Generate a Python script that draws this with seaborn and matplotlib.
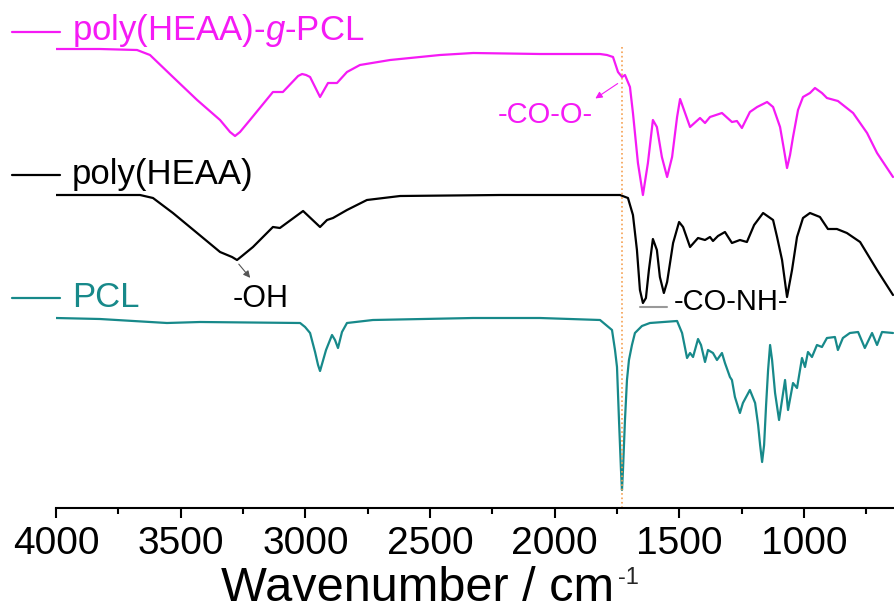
import matplotlib
matplotlib.use("Agg")
import matplotlib.pyplot as plt
import numpy as np
import pandas as pd
import seaborn as sns

# FTIR spectra (wavenumber in cm-1, transmittance in arbitrary offset units)
graft_wn = [4000, 3824, 3675, 3623, 3531, 3434, 3342, 3302, 3282, 3262, 3222, 3130, 3090, 3029,
            3013, 2997, 2981, 2961, 2941, 2925, 2909, 2873, 2833, 2781, 2660, 2460, 2327, 2059,
            1818, 1790, 1766, 1746, 1730, 1718, 1698, 1686, 1666, 1646, 1626, 1606, 1590, 1570,
            1549, 1529, 1509, 1497, 1477, 1457, 1417, 1397, 1377, 1329, 1289, 1269, 1249, 1217,
            1188, 1148, 1124, 1096, 1080, 1068, 1056, 1044, 1024, 1004, 976, 956, 928, 908, 864,
            803, 747, 707, 643]
graft_t = [459, 459, 458, 453, 431, 408, 388, 376, 372, 376, 388, 416, 416, 432,
           434, 433, 431, 421, 411, 418, 425, 425, 436, 443, 448, 453, 455, 454,
           454, 453, 451, 436, 431, 433, 421, 395, 345, 313, 345, 388, 381, 351,
           331, 351, 391, 409, 395, 381, 390, 385, 391, 395, 386, 387, 380, 396,
           401, 406, 401, 381, 358, 340, 353, 371, 398, 411, 415, 420, 415, 410, 407,
           395, 375, 355, 331]

heaa_wn = [4000, 3663, 3611, 3531, 3434, 3342, 3294, 3274, 3254, 3210, 3130, 3102, 3009, 2941,
           2913, 2889, 2833, 2753, 2620, 2219, 1738, 1706, 1686, 1670, 1658, 1646, 1634, 1622,
           1606, 1590, 1578, 1562, 1549, 1525, 1501, 1485, 1457, 1425, 1397, 1377, 1365, 1345,
           1317, 1289, 1257, 1229, 1200, 1164, 1124, 1108, 1088, 1068, 1048, 1028, 1004, 976,
           936, 904, 868, 828, 775, 707, 643]
heaa_t = [313, 313, 310, 295, 275, 256, 251, 248, 252, 261, 281, 280, 297, 281,
          288, 290, 298, 308, 312, 313, 313, 310, 293, 258, 218, 205, 210, 238,
          269, 258, 231, 215, 226, 265, 286, 281, 261, 270, 268, 271, 267, 272,
          276, 265, 268, 266, 283, 295, 288, 271, 248, 211, 238, 271, 290, 295,
          291, 279, 279, 275, 266, 238, 213]

pcl_wn = [4000, 3824, 3555, 3422, 3021, 3001, 2981, 2961, 2949, 2941, 2933, 2917, 2893, 2881,
          2869, 2853, 2833, 2729, 2327, 2059, 1818, 1770, 1758, 1750, 1742, 1734, 1730, 1726,
          1718, 1710, 1702, 1690, 1678, 1650, 1618, 1509, 1489, 1469, 1457, 1445, 1425, 1413,
          1397, 1385, 1365, 1349, 1329, 1317, 1297, 1289, 1277, 1257, 1245, 1217, 1196, 1184,
          1176, 1168, 1160, 1152, 1144, 1136, 1128, 1116, 1100, 1076, 1064, 1044, 1028, 1008,
          996, 984, 968, 948, 928, 908, 876, 864, 844, 816, 783, 756, 727, 707, 687, 643]
pcl_t = [190, 189, 185, 186, 185, 181, 175, 156, 143, 137, 144, 158, 173, 168,
         160, 176, 185, 188, 190, 190, 188, 178, 158, 141, 88, 38, 18, 38,
         88, 128, 148, 163, 175, 182, 185, 187, 175, 150, 155, 151, 169, 163,
         146, 158, 155, 148, 155, 145, 131, 128, 111, 95, 105, 118, 105, 83,
         63, 46, 63, 103, 138, 163, 148, 115, 88, 128, 98, 125, 120, 150,
         141, 156, 151, 163, 161, 170, 171, 158, 170, 175, 176, 160, 175, 163, 176, 175]

samples = ["poly(HEAA)-g-PCL", "poly(HEAA)", "PCL"]
colors = {"poly(HEAA)-g-PCL": "#f51af5", "poly(HEAA)": "#000000", "PCL": "#17898a"}

df = pd.concat([
    pd.DataFrame({"wavenumber": graft_wn, "T": graft_t, "sample": samples[0]}),
    pd.DataFrame({"wavenumber": heaa_wn, "T": heaa_t, "sample": samples[1]}),
    pd.DataFrame({"wavenumber": pcl_wn, "T": pcl_t, "sample": samples[2]}),
], ignore_index=True)

sns.set_style("ticks")
plt.rcParams["font.family"] = ["Liberation Sans", "DejaVu Sans"]
plt.rcParams["mathtext.fontset"] = "custom"
plt.rcParams["mathtext.rm"] = "Liberation Sans"
plt.rcParams["mathtext.it"] = "Liberation Sans:italic"

fig = plt.figure(figsize=(8.94, 6.12), dpi=100)
ax = fig.add_axes([56 / 894, 104 / 612, 838 / 894, 508 / 612])

sns.lineplot(data=df, x="wavenumber", y="T", hue="sample", palette=colors,
             estimator=None, sort=False, linewidth=1.6, legend=False, ax=ax)

ax.set_xlim(4000, 639)
ax.set_ylim(0, 508)
ax.set_xticks(np.arange(4000, 999, -500))
ax.set_xticks(np.arange(3750, 700, -500), minor=True)
ax.set_yticks([])
ax.set_ylabel("")
ax.tick_params(axis="x", which="major", length=7, width=1.5, labelsize=28, pad=6,
               color="black", labelcolor="black")
ax.tick_params(axis="x", which="minor", length=4, width=1.5, color="black")
for s in ["left", "top", "right"]:
    ax.spines[s].set_visible(False)
ax.spines["bottom"].set_linewidth(1.5)
ax.spines["bottom"].set_color("black")

xl = ax.set_xlabel("Wavenumber / cm", fontsize=35, color="black")
xl.set_verticalalignment("baseline")
ax.xaxis.set_label_coords(0.432, -0.184)
ax.text(0.671, -0.116, "-1", transform=ax.transAxes, fontsize=17, va="top", ha="left")

# ester carbonyl marker
ax.axvline(1730, ymin=0, ymax=0.912, color="#f5a050", ls=":", lw=1.2)

# sample labels at the left
label_y = {"poly(HEAA)-g-PCL": (476, 468), "poly(HEAA)": (333, 324), "PCL": (210, 201)}
label_txt = {"poly(HEAA)-g-PCL": r"poly(HEAA)-$\mathit{g}$-PCL", "poly(HEAA)": "poly(HEAA)", "PCL": "PCL"}
for name in samples:
    ly, ty = label_y[name]
    ax.plot([4176, 3984], [ly, ly], color=colors[name], lw=1.6, clip_on=False)
    ax.text(3936, ty, label_txt[name], color=colors[name], fontsize=25, va="baseline", ha="left")

# band annotations
ax.annotate("", xy=(3214, 228), xytext=(3274, 246),
            arrowprops=dict(arrowstyle="-|>", color="#555555", lw=0.8, mutation_scale=10))
ax.text(3290, 201, "-OH", fontsize=22, va="baseline", ha="left", color="black")

ax.annotate("", xy=(1846, 408), xytext=(1738, 426),
            arrowprops=dict(arrowstyle="-|>", color=colors["poly(HEAA)-g-PCL"], lw=0.8, mutation_scale=10))
ax.text(2227, 385, "-CO-O-", fontsize=21, va="baseline", ha="left", color=colors["poly(HEAA)-g-PCL"])

ax.plot([1658, 1549], [201, 201], color="#999999", lw=1.5)
ax.text(1521, 198, "-CO-NH-", fontsize=21, va="baseline", ha="left", color="black")

fig.savefig("out.png", dpi=100)
